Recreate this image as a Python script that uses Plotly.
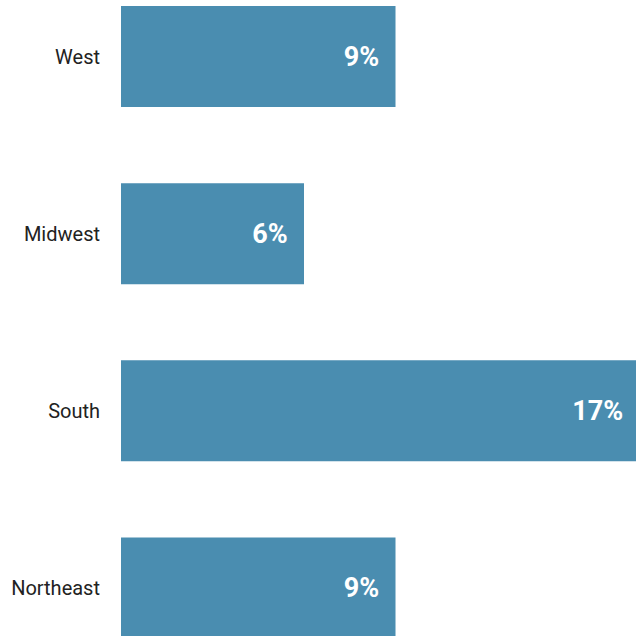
import plotly.graph_objects as go

regions = ["Northeast", "South", "Midwest", "West"]
values = [9, 17, 6, 9]
labels = [f"<b>{v}%</b>\u00a0\u00a0" for v in values]

fig = go.Figure()
fig.add_trace(go.Bar(
    x=values, y=regions, orientation="h",
    marker=dict(color="#4a8db0", line=dict(width=0)),
    width=0.57, hoverinfo="skip",
    text=labels, textposition="inside", insidetextanchor="end",
    insidetextfont=dict(family="Roboto", size=27, color="white"),
))

fig.update_layout(
    width=645, height=636,
    margin=dict(l=121, r=0, t=0, b=0),
    paper_bgcolor="white", plot_bgcolor="white",
    showlegend=False,
    font=dict(family="Roboto", size=20, color="#222222"),
    xaxis=dict(range=[0, 17.18], visible=False, fixedrange=True),
    yaxis=dict(range=[-0.271, 3.319], showgrid=False, zeroline=False,
               showline=False, ticks="", ticklabelstandoff=20,
               tickfont=dict(family="Roboto", size=20, color="#222222")),
)
fig.write_html(
    "out.html",
    config={"displayModeBar": False},
    post_script="document.body.style.margin='0';document.body.style.overflow='hidden';",
)
